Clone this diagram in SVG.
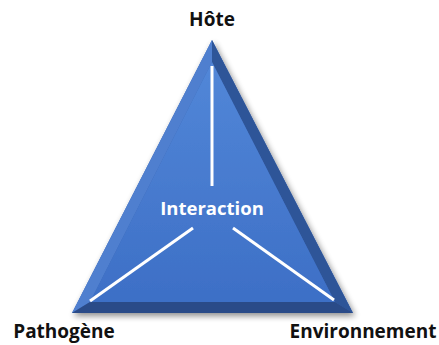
<svg xmlns="http://www.w3.org/2000/svg" width="439" height="345" viewBox="0 0 439 345">
  <defs>
    <linearGradient id="face" x1="0" y1="0" x2="0" y2="1">
      <stop offset="0" stop-color="#5287d8"/>
      <stop offset="1" stop-color="#3d6fc6"/>
    </linearGradient>
    <filter id="shadow" x="-20%" y="-20%" width="140%" height="140%">
      <feGaussianBlur in="SourceAlpha" stdDeviation="3"/>
      <feOffset dx="2" dy="3" result="b"/>
      <feComponentTransfer><feFuncA type="linear" slope="0.45"/></feComponentTransfer>
      <feMerge><feMergeNode/><feMergeNode in="SourceGraphic"/></feMerge>
    </filter>
    <style>
      .label { font-family: "Open Sans", "Liberation Sans", sans-serif; font-weight: bold; font-size: 19px; fill: #111; }
      .inner { font-family: "Open Sans", "Liberation Sans", sans-serif; font-weight: bold; font-size: 18.5px; fill: #ffffff; }
      .spoke { stroke: #ffffff; stroke-width: 3; stroke-linecap: butt; fill: none; }
    </style>
  </defs>

  <!-- beveled pyramid -->
  <g id="triangle" filter="url(#shadow)">
    <polygon points="212,40 72,313 353,313" fill="#3a66b4"/>
    <!-- left bevel -->
    <polygon points="212,40 212,62 90,302 72,313" fill="#4f7fcf"/>
    <!-- right bevel -->
    <polygon points="212,40 353,313 335,302 212,62" fill="#2e5598"/>
    <!-- bottom bevel -->
    <polygon points="72,313 90,302 335,302 353,313" fill="#2b4b88"/>
    <!-- face -->
    <polygon points="212,62 90,302 335,302" fill="url(#face)"/>
  </g>

  <g id="connectors">
    <line class="spoke" x1="212" y1="66" x2="212" y2="186"/>
    <line class="spoke" x1="193" y1="228" x2="90" y2="301"/>
    <line class="spoke" x1="233" y1="228" x2="334" y2="300"/>
  </g>

  <g id="node-interaction">
    <text class="inner" x="212" y="215" text-anchor="middle">Interaction</text>
  </g>
  <g id="node-hote">
    <text class="label" x="212" y="26" text-anchor="middle">Hôte</text>
  </g>
  <g id="node-pathogene">
    <text class="label" x="64" y="338" text-anchor="middle">Pathogène</text>
  </g>
  <g id="node-environnement">
    <text class="label" x="363" y="338" text-anchor="middle">Environnement</text>
  </g>
</svg>
